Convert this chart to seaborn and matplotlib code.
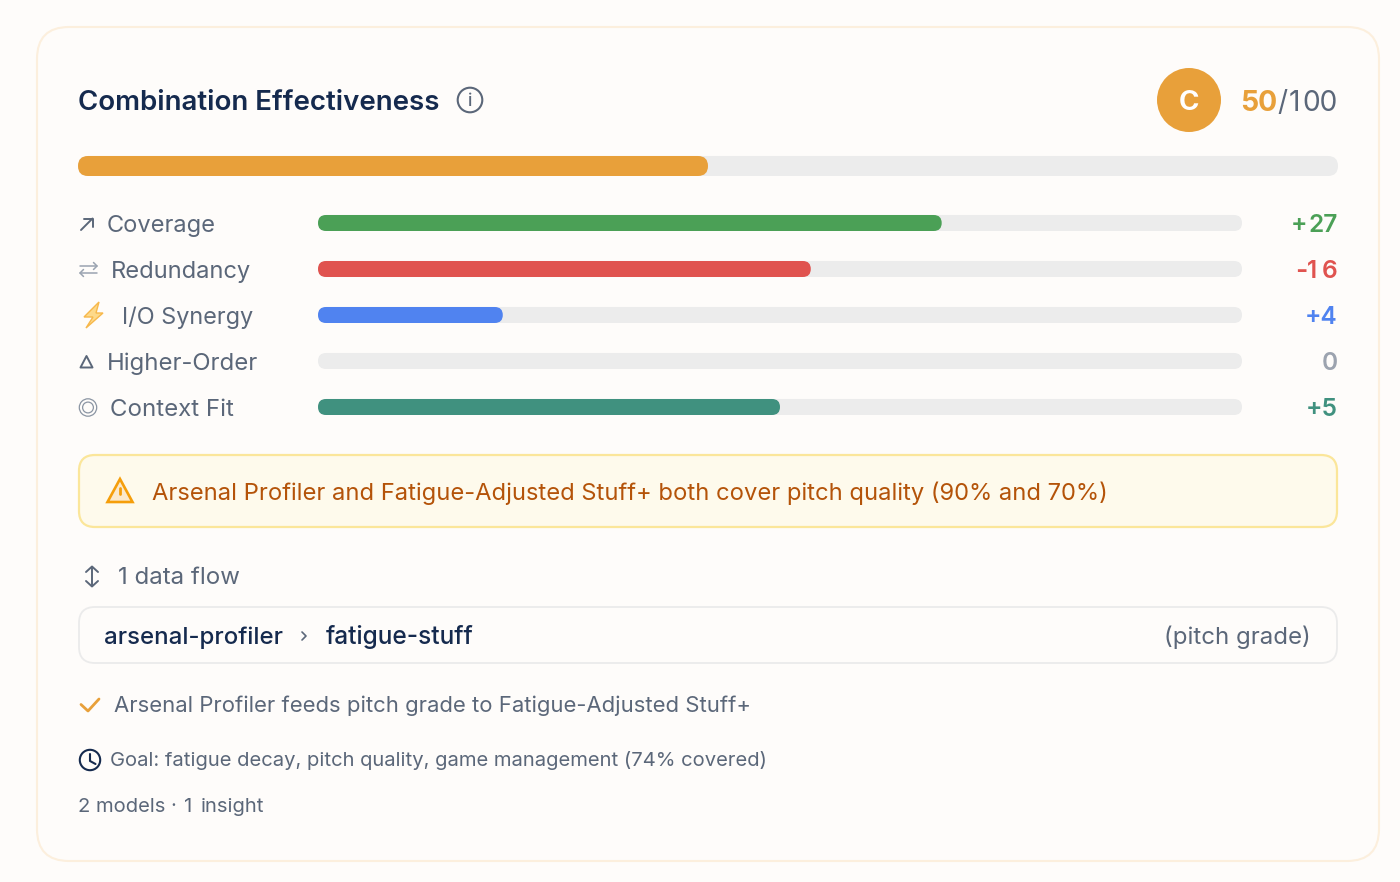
import matplotlib
matplotlib.use('Agg')
import matplotlib.pyplot as plt
import pandas as pd
import seaborn as sns
from matplotlib.patches import Circle, FancyBboxPatch, Polygon
from matplotlib.transforms import IdentityTransform

# chart data
categories = ['Coverage', 'Redundancy', 'I/O Synergy', 'Higher-Order', 'Context Fit']
points = [27, 16, 4, 0, 5]
max_points = [40, 30, 20, 10, 10]
point_labels = ['+27', '-16', '+4', '0', '+5']
bar_colors = ['#4BA056', '#E0534F', '#5083F0', '#9CA3AF', '#40917F']
label_colors = ['#4BA056', '#E0534F', '#5083F0', '#9CA3AF', '#40917F']
overall_score = 50
overall_max = 100

BG = '#FEFCFA'
TRACK = '#ECECEC'
ORANGE = '#E8A03A'
NAVY = '#152A4E'
SLATE = '#5B6779'

sns.set_theme(style='white')
plt.rcParams['font.family'] = ['Inter', 'DejaVu Sans']

fig = plt.figure(figsize=(14, 8.82), dpi=100, facecolor=BG)

# card and all the text sit on an axes in pixel coords
page = fig.add_axes([0, 0, 1, 1])
page.set_xlim(0, 1400)
page.set_ylim(882, 0)
page.axis('off')


def px_axes(x0, y0, x1, y1):
    ax = fig.add_axes([x0 / 1400, 1 - y1 / 882, (x1 - x0) / 1400, (y1 - y0) / 882])
    ax.patch.set_alpha(0)
    return ax


def box(x0, y0, x1, y1, r, fc, ec, lw=1.5):
    page.add_patch(FancyBboxPatch((x0 + r, y0 + r), x1 - x0 - 2 * r, y1 - y0 - 2 * r,
                                  boxstyle=f'round,pad={r},rounding_size={r}',
                                  fc=fc, ec=ec, lw=lw))


def txt(x, y, s, color=SLATE, size=17.3, weight='normal', ha='left'):
    page.text(x, y, s, color=color, fontsize=size, fontweight=weight, ha=ha, va='baseline')


def line(xs, ys, color=SLATE, lw=1.4):
    page.plot(xs, ys, color=color, lw=lw, solid_capstyle='round', solid_joinstyle='round')


def round_bars(ax):
    # swap the square seaborn bars for pills of the same size
    for p in list(ax.patches):
        bb = p.get_window_extent()
        p.set_visible(False)
        if bb.width < 0.5:
            continue
        r = bb.height / 2
        w = max(bb.width - 2 * r, 0.01)
        ax.add_patch(FancyBboxPatch((bb.x0 + r, bb.y0 + r), w, 0.01,
                                    boxstyle=f'round,pad={r},rounding_size={r}',
                                    fc=p.get_facecolor(), ec='none', lw=0,
                                    transform=IdentityTransform(), clip_on=False))


def draw_bars(ax, df, colors, height):
    sns.barplot(data=df, x='full', y='name', color=TRACK, width=height, ax=ax,
                saturation=1, order=list(df['name']))
    sns.barplot(data=df, x='share', y='name', hue='name', palette=colors, legend=False,
                width=height, ax=ax, saturation=1, order=list(df['name']))
    ax.set_xlim(0, 1)
    ax.axis('off')
    round_bars(ax)


# card
box(37, 27, 1379, 861, 32, BG, '#FCEFDD', 1.5)

# header
txt(78.5, 110, 'Combination Effectiveness', NAVY, 19.9, 'semibold')
page.add_patch(Circle((470, 100), 12.3, fc='none', ec=SLATE, lw=1.5))
txt(470, 106.5, 'i', SLATE, 12.5, 'medium', ha='center')
page.add_patch(Circle((1189, 100), 32, fc=ORANGE, ec='none'))
txt(1189, 110, 'C', 'white', 20, 'bold', ha='center')
txt(1277.5, 111, str(overall_score), ORANGE, 20.4, 'bold', ha='right')
txt(1277.5, 111, '/', SLATE, 20.2)
txt(1289, 111, '1', SLATE, 20.2)
txt(1338, 111, '00', SLATE, 20.2, ha='right')

# overall bar
overall_df = pd.DataFrame({'name': ['Overall'], 'full': [1.0], 'share': [overall_score / overall_max]})
draw_bars(px_axes(78, 156, 1338, 176), overall_df, [ORANGE], 1.0)

# component bars
comp_df = pd.DataFrame({'name': categories, 'full': [1.0] * len(categories),
                        'share': [p / m for p, m in zip(points, max_points)]})
draw_bars(px_axes(318, 200, 1242, 430), comp_df, bar_colors, 16 / 46)

label_x = [107, 110.5, 122, 107, 110.5]
label_sizes = [17.0, 17.05, 16.9, 17.2, 17.3]
for i, name in enumerate(categories):
    base = 232 + 46 * i
    col = label_colors[i]
    txt(label_x[i], base, name, size=label_sizes[i])
    if point_labels[i] == '-16':
        # the hyphen and the 1 sit wider apart in the reference
        txt(1295.5, base + 0.5, '-', col, 19, 'semibold')
        txt(1306.5, base + 0.5, '1', col, 17.6, 'semibold')
        txt(1337.5, base + 0.5, '6', col, 17.6, 'semibold', ha='right')
    elif point_labels[i] == '+27':
        txt(1291, base + 0.5, '+', col, 17.6, 'semibold')
        txt(1337.5, base + 0.5, '27', col, 17.6, 'semibold', ha='right')
    else:
        txt(1337.5, base + 0.5, point_labels[i], col, 17.6, 'semibold', ha='right')

# row icons
line([81, 92.5], [230, 218.5], SLATE)
line([84, 92.5, 92.5], [218.5, 218.5, 227], SLATE)
line([80, 97], [266, 266], '#9AA3B0', 1.1)
line([93.5, 97, 93.5], [262.5, 266, 269.5], '#9AA3B0', 1.1)
line([80, 97], [273, 273], '#9AA3B0', 1.1)
line([83.5, 80, 83.5], [269.5, 273, 276.5], '#9AA3B0', 1.1)
page.add_patch(Polygon([(99, 302), (84, 317), (93, 317), (86, 328), (103, 313), (96, 313)],
                       closed=True, fc='#FDD98A', ec='#F7B84B', lw=1.0))
page.add_patch(Polygon([(80.5, 367.5), (86.5, 356), (92.5, 367.5)], closed=True,
                       fc='none', ec=SLATE, lw=1.4, joinstyle='round'))
page.add_patch(Circle((88, 407.5), 8.7, fc='none', ec='#8B95A3', lw=0.9))
page.add_patch(Circle((88, 407.5), 5.4, fc='none', ec='#8B95A3', lw=0.9))

# warning box
box(79, 455, 1337, 527, 16, '#FEFAEC', '#FBE69A', 1.6)
page.add_patch(Polygon([(120, 479), (132.5, 502), (107.5, 502)], closed=True, fc='#FBE9CC',
                       ec='#F59E0B', lw=1.9, joinstyle='miter'))
line([120, 120], [488, 494], '#F59E0B', 2.0)
line([120, 120], [498, 498.4], '#F59E0B', 2.0)
txt(152.5, 500, 'Arsenal Profiler and Fatigue-Adjusted Stuff+ both cover pitch quality (90% and 70%)', '#B45309', 17.1)

# data flow
line([92, 92], [567, 586], SLATE)
line([86, 92, 98], [572, 566.5, 572], SLATE)
line([86, 92, 98], [581, 586.5, 581], SLATE)
txt(118, 584, '1 data flow')
box(79, 607, 1337, 663, 16, BG, '#EBEBEB', 1.3)
txt(104, 644, 'arsenal-profiler', NAVY, 17.3, 'medium')
line([302, 306, 302], [632, 636, 640], SLATE, 1.2)
txt(325.5, 644, 'fatigue-stuff', NAVY, 17.6, 'medium')
txt(1311, 644, '(pitch grade)', SLATE, 17.3, ha='right')

# footer
line([81, 88, 99], [704.5, 711, 699], ORANGE, 2.0)
txt(114.5, 712, 'Arsenal Profiler feeds pitch grade to Fatigue-Adjusted Stuff+', SLATE, 15.9)
page.add_patch(Circle((90, 760), 10.2, fc='none', ec=NAVY, lw=1.5))
line([90, 90, 95.5], [754, 761, 764], NAVY, 1.5)
txt(110.5, 766.5, 'Goal: fatigue decay, pitch quality, game management (74% covered)', SLATE, 14.55)
txt(78.5, 812, '2 models · ', SLATE, 14.55)
txt(184, 812, '1', SLATE, 14.55)
txt(264, 812, 'insight', SLATE, 14.55, ha='right')

fig.savefig('out.png', dpi=100, facecolor=BG)
